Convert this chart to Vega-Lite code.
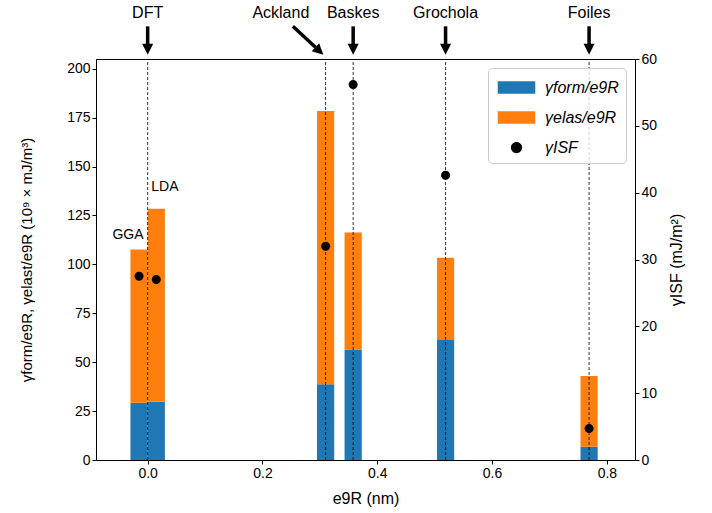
{
  "$schema": "https://vega.github.io/schema/vega-lite/v6.json",
  "width": 539,
  "height": 401,
  "autosize": {"type": "none"},
  "padding": {"left": 96, "top": 59, "right": 77, "bottom": 53},
  "datasets": {
    "potentials": [
      {"name": "GGA", "e9R": -0.015, "form": 29.3, "elas": 78.3, "isf": 27.5},
      {"name": "LDA", "e9R": 0.015, "form": 29.8, "elas": 98.7, "isf": 27.0},
      {"name": "Ackland", "e9R": 0.31, "form": 38.7, "elas": 139.7, "isf": 32.0},
      {"name": "Baskes", "e9R": 0.358, "form": 56.5, "elas": 59.8, "isf": 56.2},
      {"name": "Grochola", "e9R": 0.519, "form": 61.3, "elas": 42.1, "isf": 42.6},
      {"name": "Foiles", "e9R": 0.769, "form": 6.8, "elas": 36.1, "isf": 4.7}
    ],
    "refs": [
      {"name": "DFT", "e9R": 0},
      {"name": "Ackland", "e9R": 0.31},
      {"name": "Baskes", "e9R": 0.358},
      {"name": "Grochola", "e9R": 0.519},
      {"name": "Foiles", "e9R": 0.769}
    ]
  },
  "layer": [
    {
      "layer": [
        {
          "data": {"name": "potentials"},
          "transform": [{"fold": ["form", "elas"], "as": ["key", "value"]}],
          "mark": {"type": "bar", "width": 17.2},
          "encoding": {
            "x": {
              "field": "e9R", "type": "quantitative",
              "scale": {"domain": [-0.09, 0.849], "nice": false, "zero": false, "padding": 0},
              "axis": {"values": [0, 0.2, 0.4, 0.6, 0.8], "format": ".1f", "title": "e9R (nm)", "titlePadding": 10, "titleFontSize": 16}
            },
            "y": {
              "field": "value", "type": "quantitative", "stack": "zero",
              "scale": {"domain": [0, 205], "nice": false, "zero": true},
              "axis": {"values": [0, 25, 50, 75, 100, 125, 150, 175, 200], "title": "γform/e9R, γelast/e9R (10⁹ × mJ/m³)", "titlePadding": 32}
            },
            "color": {
              "field": "key", "type": "nominal",
              "scale": {"domain": ["form", "elas", "isf"], "range": ["#1f77b4", "#ff7f0e", "#000000"]},
              "legend": {"title": null, "labelExpr": "datum.label == 'form' ? 'γform/e9R' : datum.label == 'elas' ? 'γelas/e9R' : 'γISF'"}
            },
            "order": {"field": "key", "sort": "descending"}
          }
        },
        {
          "data": {"name": "refs"},
          "mark": {"type": "rule", "strokeDash": [3, 2], "strokeWidth": 0.8, "color": "black"},
          "encoding": {
            "x": {"field": "e9R", "type": "quantitative"},
            "y": {"datum": 0, "type": "quantitative"},
            "y2": {"datum": 205}
          }
        },
        {
          "data": {"name": "refs"},
          "transform": [{"filter": "datum.name != 'Ackland'"}],
          "mark": {"type": "text", "fontSize": 16, "baseline": "middle", "align": "center", "color": "black"},
          "encoding": {
            "x": {"field": "e9R", "type": "quantitative"},
            "y": {"datum": 228.6, "type": "quantitative"},
            "text": {"field": "name"}
          }
        },
        {
          "data": {"name": "refs"},
          "transform": [{"filter": "datum.name == 'Ackland'"}],
          "mark": {"type": "text", "fontSize": 16, "baseline": "middle", "align": "center", "color": "black"},
          "encoding": {
            "x": {"datum": 0.232, "type": "quantitative"},
            "y": {"datum": 228.6, "type": "quantitative"},
            "text": {"field": "name"}
          }
        },
        {
          "data": {"name": "refs"},
          "transform": [{"filter": "datum.name != 'Ackland'"}],
          "mark": {"type": "rule", "strokeWidth": 3.5, "color": "black"},
          "encoding": {
            "x": {"field": "e9R", "type": "quantitative"},
            "y": {"datum": 221.7, "type": "quantitative"},
            "y2": {"datum": 212}
          }
        },
        {
          "data": {"name": "refs"},
          "transform": [{"filter": "datum.name != 'Ackland'"}],
          "mark": {"type": "point", "shape": "M-1,-1L1,-1L0,1Z", "size": 121, "filled": true, "opacity": 1, "color": "black", "strokeWidth": 0},
          "encoding": {
            "x": {"field": "e9R", "type": "quantitative"},
            "y": {"datum": 210, "type": "quantitative"}
          }
        },
        {
          "data": {"name": "refs"},
          "transform": [{"filter": "datum.name == 'Ackland'"}],
          "mark": {"type": "rule", "strokeWidth": 3.5, "color": "black"},
          "encoding": {
            "x": {"datum": 0.253, "type": "quantitative"},
            "x2": {"datum": 0.2923},
            "y": {"datum": 221.7, "type": "quantitative"},
            "y2": {"datum": 211.0}
          }
        },
        {
          "data": {"name": "refs"},
          "transform": [{"filter": "datum.name == 'Ackland'"}],
          "mark": {"type": "point", "shape": "M-1,-1L1,-1L0,1Z", "size": 121, "filled": true, "opacity": 1, "color": "black", "strokeWidth": 0, "angle": -47},
          "encoding": {
            "x": {"datum": 0.2992, "type": "quantitative"},
            "y": {"datum": 209.1, "type": "quantitative"}
          }
        },
        {
          "data": {"name": "refs"},
          "transform": [{"filter": "datum.name == 'DFT'"}],
          "mark": {"type": "text", "fontSize": 14, "baseline": "middle", "align": "center", "color": "black", "text": "GGA"},
          "encoding": {
            "x": {"datum": -0.0343, "type": "quantitative"},
            "y": {"datum": 114.8, "type": "quantitative"}
          }
        },
        {
          "data": {"name": "refs"},
          "transform": [{"filter": "datum.name == 'DFT'"}],
          "mark": {"type": "text", "fontSize": 14, "baseline": "middle", "align": "center", "color": "black", "text": "LDA"},
          "encoding": {
            "x": {"datum": 0.030, "type": "quantitative"},
            "y": {"datum": 139.6, "type": "quantitative"}
          }
        }
      ]
    },
    {
      "data": {"name": "potentials"},
      "mark": {"type": "point", "filled": true, "size": 400, "opacity": 1, "strokeWidth": 0},
      "encoding": {
        "x": {"field": "e9R", "type": "quantitative"},
        "y": {
          "field": "isf", "type": "quantitative",
          "scale": {"domain": [0, 60], "nice": false, "zero": true},
          "axis": {"orient": "right", "values": [0, 10, 20, 30, 40, 50, 60], "title": "γISF (mJ/m²)", "titleAngle": 270, "titlePadding": 28, "titleFontSize": 16}
        },
        "color": {"datum": "isf", "type": "nominal"},
        "shape": {
          "datum": "isf", "type": "nominal",
          "scale": {"domain": ["form", "elas", "isf"], "range": ["M-1.5,-0.5H1.5V0.5H-1.5Z", "M-1.5,-0.5H1.5V0.5H-1.5Z", "M-0.45,0A0.45,0.45 0 1,0 0.45,0A0.45,0.45 0 1,0 -0.45,0Z"]},
          "legend": {"title": null, "labelExpr": "datum.label == 'form' ? 'γform/e9R' : datum.label == 'elas' ? 'γelas/e9R' : 'γISF'"}
        }
      }
    }
  ],
  "resolve": {"scale": {"y": "independent"}},
  "config": {
    "font": "Liberation Sans",
    "view": {"stroke": "black", "strokeWidth": 1},
    "axis": {
      "grid": false, "domainColor": "black", "tickColor": "black", "labelColor": "black", "titleColor": "black",
      "labelFontSize": 14, "titleFontSize": 15, "titleFontWeight": "normal", "tickSize": 4,
      "labelFont": "Liberation Sans", "titleFont": "Liberation Sans"
    },
    "legend": {
      "orient": "top-right", "offset": 9, "fillColor": "rgba(255,255,255,0.8)", "strokeColor": "#cccccc",
      "cornerRadius": 4, "padding": 7, "labelFontSize": 16, "labelFontStyle": "italic", "labelColor": "black",
      "symbolSize": 625, "symbolStrokeWidth": 0, "rowPadding": 9, "labelOffset": 16, "symbolOffset": 9,
      "labelFont": "Liberation Sans"
    }
  }
}
